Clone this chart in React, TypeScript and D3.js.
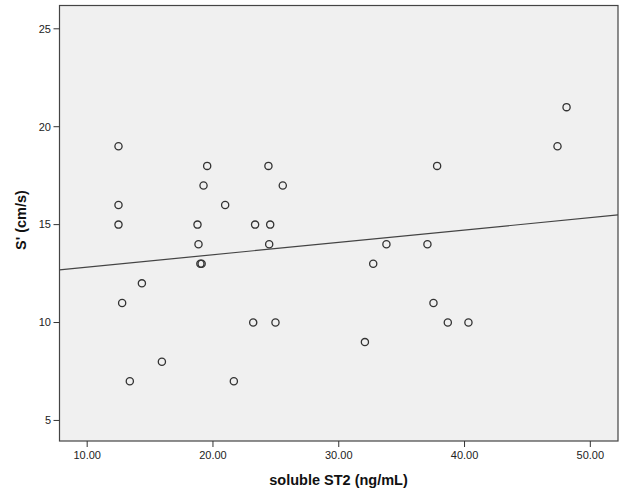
import React from "react";
import * as d3 from "d3";

const st2Values = [
  12.49, 19.54, 24.41, 19.25, 25.55, 12.49, 20.97, 12.49, 18.77, 23.35, 24.55,
  18.85, 24.47, 19.0, 19.1, 14.35, 12.78, 23.2, 24.97, 15.94, 13.39, 21.66,
  48.11, 47.39, 37.82, 33.79, 37.05, 32.74, 37.53, 38.67, 40.31, 32.08,
];
const sPrimeValues = [
  19, 18, 18, 17, 17, 16, 16, 15, 15, 15, 15,
  14, 14, 13, 13, 12, 11, 10, 10, 8, 7, 7,
  21, 19, 18, 14, 14, 13, 11, 10, 10, 9,
];
const xTicks = [10, 20, 30, 40, 50];
const yTicks = [5, 10, 15, 20, 25];
const xDomain = [7.8, 52.2];
const yDomain = [3.95, 26.19];
const fitIntercept = 12.2;
const fitSlope = 0.0631;
const xTitle = "soluble ST2 (ng/mL)";
const yTitle = "S' (cm/s)";

export default function App() {
  const W = 626, H = 502;
  const left = 59.5, right = 618, top = 5.5, bottom = 441;
  const x = d3.scaleLinear().domain(xDomain).range([left, right]);
  const y = d3.scaleLinear().domain(yDomain).range([bottom, top]);
  const font = "'Liberation Sans', Arial, sans-serif";
  const line = d3.line<number>().x((v) => x(v)).y((v) => y(fitIntercept + fitSlope * v));
  return (
    <svg width={W} height={H} style={{ position: "absolute", left: 0, top: 0, background: "#fff" }}>
      <rect x={left} y={top} width={right - left} height={bottom - top} fill="#f0f0f0" stroke="#444" strokeWidth={1.2} />
      <defs>
        <clipPath id="pa">
          <rect x={left} y={top} width={right - left} height={bottom - top} />
        </clipPath>
      </defs>
      <path d={line(xDomain) || ""} stroke="#444" strokeWidth={1.2} fill="none" clipPath="url(#pa)" />
      {st2Values.map((v, i) => (
        <circle key={i} cx={x(v)} cy={y(sPrimeValues[i])} r={3.6} fill="none" stroke="#333" strokeWidth={1.3} />
      ))}
      {xTicks.map((t) => (
        <g key={t}>
          <line x1={x(t)} x2={x(t)} y1={bottom} y2={bottom + 6} stroke="#333" strokeWidth={1} />
          <text x={x(t)} y={459} textAnchor="middle" fontFamily={font} fontSize={11} fill="#222">
            {d3.format(".2f")(t)}
          </text>
        </g>
      ))}
      {yTicks.map((t) => (
        <g key={t}>
          <line x1={left - 6} x2={left} y1={y(t)} y2={y(t)} stroke="#333" strokeWidth={1} />
          <text x={51} y={y(t)} dy="0.35em" textAnchor="end" fontFamily={font} fontSize={11} fill="#222">
            {t}
          </text>
        </g>
      ))}
      <text x={338.5} y={484.5} textAnchor="middle" fontFamily={font} fontSize={14.5} fontWeight="bold" fill="#111">
        {xTitle}
      </text>
      <text transform="translate(26,220) rotate(-90)" textAnchor="middle" fontFamily={font} fontSize={14.5} fontWeight="bold" fill="#111">
        {yTitle}
      </text>
    </svg>
  );
}
